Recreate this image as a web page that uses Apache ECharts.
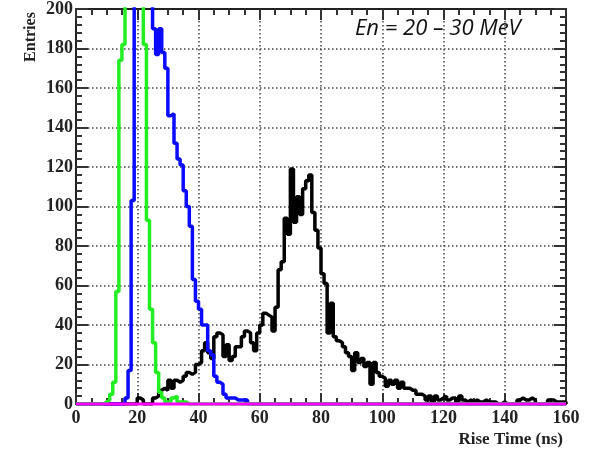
<!DOCTYPE html>
<html>
<head>
<meta charset="utf-8">
<script src="https://cdn.jsdelivr.net/npm/echarts@6/dist/echarts.min.js"></script>
<style>
html,body{margin:0;padding:0;background:#fff;}
#chart{width:593px;height:450px;}
</style>
</head>
<body>
<div id="chart"></div>
<script>
// Axis ranges and tick labels
const xMin = 0, xMax = 160, xStep = 20;
const yMin = 0, yMax = 200, yStep = 20;
const xTickLabels = ['0', '20', '40', '60', '80', '100', '120', '140', '160'];
const yTickLabels = ['0', '20', '40', '60', '80', '100', '120', '140', '160', '180', '200'];

// Histograms: 1 ns bins, counts starting at bin "start"
const greenStart = 9;
const greenCounts = [1, 2, 5, 11, 57, 174, 182, 400, 600, 700, 650, 500, 300, 182, 93, 48, 31, 16, 6, 3, 1, 1, 3, 4, 1, 1, 1];

const blueStart = 16;
const blueCounts = [3, 17, 103, 400, 700, 800, 700, 500, 260, 190, 177, 190, 178, 170, 146, 147, 132, 124, 121, 108, 100, 90, 63, 52, 48, 40, 40, 27, 25, 14, 11, 10, 5, 3, 3, 3, 2, 2, 2, 2];

const blackStart = 19;
const blackCounts = [0, 3, 2, 0, 0, 0, 3, 4, 7, 8, 7, 12, 8, 12, 11, 12, 14, 16, 15, 16,
  20, 21, 27, 31, 26, 23, 34, 36, 35, 24, 30, 22, 24, 29, 29, 34, 37, 36, 31, 27,
  36, 40, 46, 45, 44, 37, 49, 68, 72, 94, 86, 119, 92, 105, 96, 109, 113, 116, 97, 88,
  79, 66, 61, 36, 51, 34, 32, 31, 29, 26, 24, 17, 26, 21, 23, 19, 21, 10, 21, 16,
  14, 13, 9, 12, 10, 12, 8, 11, 8, 8, 7, 7, 5, 5, 4, 2, 4, 1, 4, 2,
  3, 4, 2, 3, 3, 1, 4, 2, 1, 2, 1, 2, 1, 1, 2, 1, 1, 1, 0, 0,
  1, 0, 0, 0, 0, 2, 3, 2, 2, 3, 2, 0, 0, 0, 0, 2, 2, 1, 1, 1, 1];

const baselineX = [0, 160];
const baselineY = [0, 0];

function histPoints(start, counts) {
  const pts = [];
  for (let k = xMin; k < xMax; k++) {
    const i = k - start;
    pts.push([k, (i >= 0 && i < counts.length) ? counts[i] : 0]);
  }
  pts.push([xMax, 0]);
  return pts;
}

const chart = echarts.init(document.getElementById('chart'), null, {renderer: 'canvas'});

const axisColor = '#222';
const labelFont = {fontFamily: '"Liberation Serif", "Times New Roman", serif', fontWeight: 'bold', fontSize: 18, color: '#222'};

function xAx(pos, showLabel) {
  return {
    type: 'value', position: pos, min: xMin, max: xMax, interval: xStep,
    axisLine: {show: true, onZero: false, lineStyle: {color: axisColor, width: 2}},
    axisTick: {show: true, inside: true, length: 11, lineStyle: {color: '#333', width: 2}},
    minorTick: {show: true, splitNumber: 4, length: 6, lineStyle: {color: '#333', width: 2}},
    axisLabel: showLabel ? Object.assign({show: true, margin: 5,
      formatter: v => xTickLabels[Math.round((v - xMin) / xStep)]}, labelFont) : {show: false},
    splitLine: {show: showLabel, lineStyle: {type: [1.5, 2.5], color: '#444', width: 1.5}},
    minorSplitLine: {show: false}
  };
}
function yAx(pos, showLabel) {
  return {
    type: 'value', position: pos, min: yMin, max: yMax, interval: yStep,
    axisLine: {show: true, onZero: false, lineStyle: {color: axisColor, width: 2}},
    axisTick: {show: true, inside: true, length: 12, lineStyle: {color: '#333', width: 2}},
    minorTick: {show: true, splitNumber: 5, length: 6, lineStyle: {color: '#333', width: 2}},
    axisLabel: showLabel ? Object.assign({show: true, margin: 3,
      formatter: v => yTickLabels[Math.round((v - yMin) / yStep)]}, labelFont) : {show: false},
    splitLine: {show: showLabel, lineStyle: {type: [1.5, 2.5], color: '#444', width: 1.5}},
    minorSplitLine: {show: false}
  };
}

function histSeries(name, color, start, counts) {
  return {
    name: name, type: 'line', step: 'end', xAxisIndex: 0, yAxisIndex: 0,
    data: histPoints(start, counts), showSymbol: false, symbol: 'none', clip: true,
    lineStyle: {color: color, width: 3.5}, animation: false
  };
}

chart.setOption({
  animation: false,
  backgroundColor: '#fff',
  grid: {left: 76, right: 27, top: 7, bottom: 46, containLabel: false},
  xAxis: [xAx('bottom', true), xAx('top', false)],
  yAxis: [yAx('left', true), yAx('right', false)],
  series: [
    histSeries('black', '#000000', blackStart, blackCounts),
    histSeries('blue', '#0a0aff', blueStart, blueCounts),
    histSeries('green', '#22ee22', greenStart, greenCounts),
    {
      name: 'baseline', type: 'line', xAxisIndex: 0, yAxisIndex: 0,
      data: baselineX.map((x, i) => [x, baselineY[i]]),
      showSymbol: false, symbol: 'none', clip: false,
      lineStyle: {color: '#ff00ff', width: 3}
    }
  ],
  graphic: [
    {type: 'text', x: 31, y: 37, rotation: Math.PI / 2, z: 100,
      style: {text: 'Entries', fill: '#222', font: 'bold 16px "Liberation Serif", serif', align: 'center', verticalAlign: 'middle'}},
    {type: 'text', x: 563, y: 440, z: 100,
      style: {text: 'Rise Time (ns)', fill: '#222', font: 'bold 17px "Liberation Serif", serif', align: 'right', verticalAlign: 'middle'}},
    {type: 'text', x: 355, y: 29, z: 100,
      style: {text: 'En = 20 – 30 MeV', fill: '#111', font: 'italic 22px "Open Sans", sans-serif', align: 'left', verticalAlign: 'middle'}}
  ]
});
</script>
</body>
</html>
